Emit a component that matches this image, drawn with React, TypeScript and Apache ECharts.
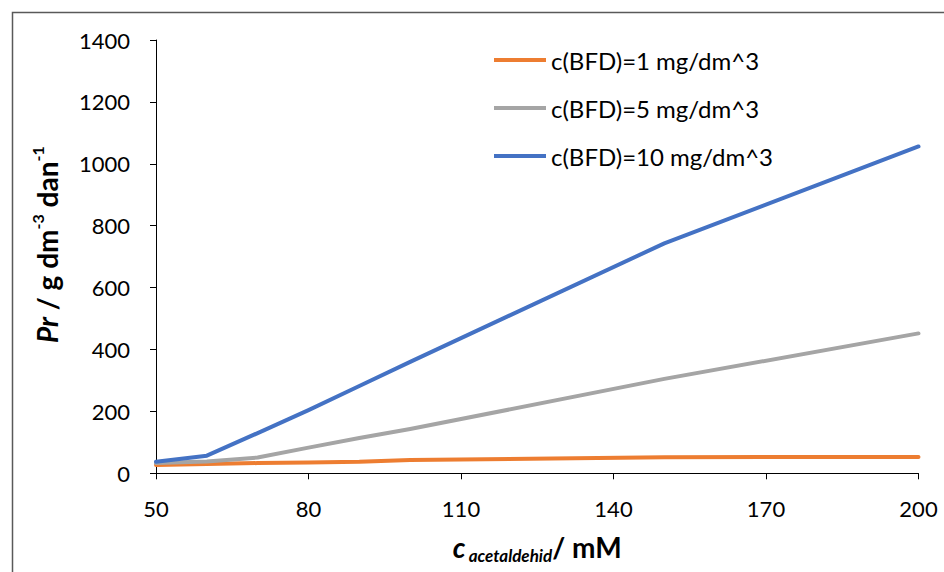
import React, { useEffect, useRef } from "react";
import * as echarts from "echarts";

const xValues = [50, 60, 70, 80, 90, 100, 150, 200];
const bfd1 = [27, 30, 33, 35, 37, 43, 52, 53];
const bfd5 = [33, 38, 51, 83, 114, 143, 305, 452];
const bfd10 = [37, 57, 130, 204, 282, 360, 743, 1056];
const seriesNames = ["c(BFD)=1 mg/dm^3", "c(BFD)=5 mg/dm^3", "c(BFD)=10 mg/dm^3"];
const seriesColors = ["#ED7D31", "#A5A5A5", "#4472C4"];

const FONT = "Lato";

export default function App() {
  const ref = useRef<HTMLDivElement>(null);
  useEffect(() => {
    if (!ref.current) return;
    const chart = echarts.init(ref.current, null, { renderer: "svg" });
    const all = [bfd1, bfd5, bfd10];
    chart.setOption({
      animation: false,
      backgroundColor: "#ffffff",
      textStyle: { fontFamily: FONT },
      grid: { left: 156, right: 25.5, top: 40, bottom: 98.7, containLabel: false, outerBoundsMode: "none" },
      legend: {
        orient: "vertical",
        left: 489,
        top: 43,
        padding: 5,
        icon: "rect",
        itemWidth: 52,
        itemHeight: 4,
        itemGap: 24,
        textStyle: { fontFamily: FONT, fontSize: 24, color: "#000", lineHeight: 24 },
        data: seriesNames,
      },
      xAxis: {
        type: "value",
        min: 50,
        max: 200,
        interval: 30,
        splitLine: { show: false },
        axisLine: { lineStyle: { color: "#000", width: 1 } },
        axisTick: { show: true, inside: false, length: 6, lineStyle: { color: "#000" } },
        axisLabel: { margin: 24, fontSize: 22, color: "#000", fontFamily: FONT },
        name: "{c|c} {sub|acetaldehid}{u|/ mM}",
        nameLocation: "middle",
        nameGap: 60,
        nameTextStyle: {
          rich: {
            c: { fontFamily: FONT, fontSize: 28, fontWeight: "bold", fontStyle: "italic", color: "#000", verticalAlign: "top", lineHeight: 31 },
            sub: { fontFamily: FONT, fontSize: 17, fontWeight: "bold", fontStyle: "italic", color: "#000", verticalAlign: "bottom", lineHeight: 31 },
            u: { fontFamily: FONT, fontSize: 28, fontWeight: "bold", color: "#000", verticalAlign: "top", lineHeight: 31 },
          },
        },
      },
      yAxis: {
        type: "value",
        min: 0,
        max: 1400,
        interval: 200,
        splitLine: { show: false },
        axisLine: { show: true, lineStyle: { color: "#000", width: 1 } },
        axisTick: { show: true, inside: false, length: 6, lineStyle: { color: "#000" } },
        axisLabel: { margin: 26, fontSize: 22, color: "#000", fontFamily: FONT, formatter: (v: number) => String(v) },
        name: "{it|Pr}{b| / g dm}{sup|-3}{b| dan}{sup|-1}",
        nameLocation: "middle",
        nameRotate: 90,
        nameGap: 95,
        nameTextStyle: {
          padding: [0, 0, 0, 24],
          rich: {
            it: { fontFamily: FONT, fontSize: 28, fontWeight: "bold", fontStyle: "italic", color: "#000", verticalAlign: "bottom", lineHeight: 32 },
            b: { fontFamily: FONT, fontSize: 28, fontWeight: "bold", color: "#000", verticalAlign: "bottom", lineHeight: 32 },
            sup: { fontFamily: FONT, fontSize: 16, fontWeight: "bold", color: "#000", verticalAlign: "top", lineHeight: 32 },
          },
        },
      },
      graphic: [
        {
          type: "rect",
          left: 10,
          top: 10,
          shape: { width: 1000, height: 1000 },
          style: { fill: "none", stroke: "#595959", lineWidth: 1.5 },
          silent: true,
          z: -1,
        },
      ],
      series: all.map((vals, i) => ({
        name: seriesNames[i],
        type: "line",
        symbol: "none",
        data: xValues.map((x, j) => [x, vals[j]]),
        lineStyle: { color: seriesColors[i], width: 4, cap: "round", join: "round" },
        itemStyle: { color: seriesColors[i] },
        z: 2 + i,
      })),
    });
    return () => chart.dispose();
  }, []);
  return (
    <div
      ref={ref}
      style={{ position: "fixed", left: 0, top: 0, width: 944, height: 572 }}
    />
  );
}
